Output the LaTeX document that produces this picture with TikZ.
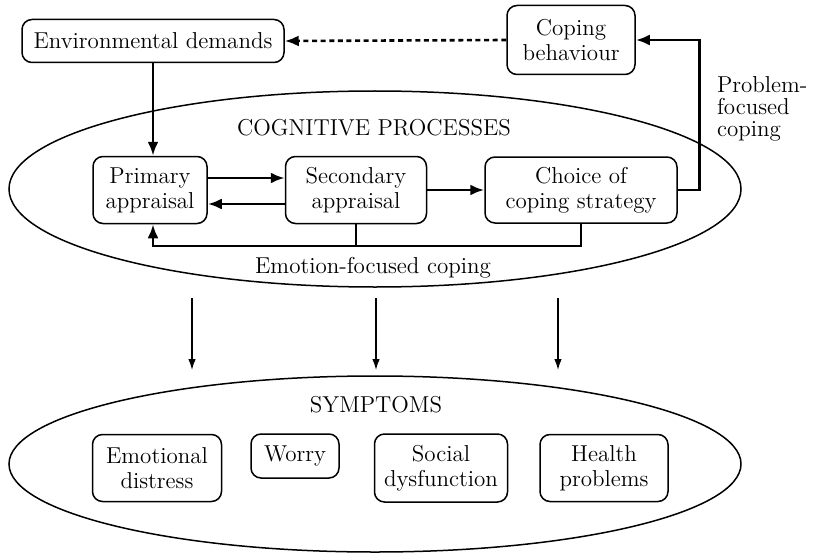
\documentclass[tikz,border=0pt]{standalone}
\usepackage{tikz}
\usetikzlibrary{shapes,positioning,arrows.meta}

\tikzset{
  box/.style={draw, rounded corners=5pt, line width=0.75pt, align=center, inner sep=1pt},
  oval/.style={draw, ellipse, line width=0.75pt, inner sep=0pt},
  link/.style={draw, line width=1.4pt},
  linkarrow/.style={link, -{Latex[length=7pt,width=5.5pt]}},
  thinarrow/.style={draw, line width=0.7pt, -{Latex[length=5.5pt,width=3.8pt]}},
}

\begin{document}
\begin{tikzpicture}[x=0.5pt,y=-0.5pt,font=\fontsize{11.5}{12.5}\selectfont]
\useasboundingbox (0,0) rectangle (813,556);
% the two big ovals
\node[oval, minimum width=366pt, minimum height=98pt] (cog) at (375,189) {};
\node[oval, minimum width=366pt, minimum height=88pt] (sym) at (375,464) {};
\node[] (cogtitle) at (374,128) {COGNITIVE PROCESSES};
\node[] (symtitle) at (376,405) {SYMPTOMS};
% boxes on top
\node[box, minimum width=131pt, minimum height=21.5pt] (env) at (153,41) {Environmental demands};
\node[box, minimum width=64pt, minimum height=34.5pt] (cope) at (571,40) {Coping\\behaviour};
% cognitive processes
\node[box, minimum width=57pt, minimum height=33.5pt] (prim) at (150,190) {Primary\\appraisal};
\node[box, minimum width=70.5pt, minimum height=33.5pt] (sec) at (356,190) {Secondary\\appraisal};
\node[box, minimum width=96pt, minimum height=33pt] (choice) at (581,190) {Choice of\\coping strategy};
% symptoms
\node[box, minimum width=64.5pt, minimum height=33.5pt] (emo) at (157,468) {Emotional\\distress};
\node[box, minimum width=44pt, minimum height=22pt] (worry) at (295,456) {Worry};
\node[box, minimum width=66.5pt, minimum height=34pt] (social) at (441,468) {Social\\dysfunction};
\node[box, minimum width=64pt, minimum height=33.5pt] (health) at (604,468) {Health\\problems};
% labels of the two coping routes
\node[align=left, anchor=west, font=\fontsize{11.5}{11}\selectfont] (pfc) at (710,109) {Problem-\\focused\\coping};
\node[] (efc) at (373,268) {Emotion-focused coping};
% connectors
\coordinate (ec) at (153,246);
\path[linkarrow] (env.south) -- (env.south |- prim.north);
\path[linkarrow] ([yshift=6pt]prim.east) -- ([yshift=6pt]sec.west);
\path[linkarrow] ([yshift=-7pt]sec.west) -- ([yshift=-7pt]prim.east);
\path[linkarrow] (sec.east) -- (choice.west);
\path[linkarrow] (choice.east) -- ++(22,0) |- (cope.east);
\path[linkarrow] (choice.south) |- (ec) -- (ec |- prim.south);
\path[link] (sec.south) -- (sec.south |- ec);
\path[draw, line width=1.3pt, dash pattern=on 2.5pt off 1.8pt, -{Latex[length=7pt,width=5.5pt]}] (cope.west) -- (env.east);
% from the cognitive processes down to the symptoms
\foreach \x [count=\i] in {192,376,558} {
  \coordinate (top\i) at (\x,298);
  \coordinate (bot\i) at (\x,370);
  \path[thinarrow] (top\i) -- (bot\i);
}
\end{tikzpicture}
\end{document}
